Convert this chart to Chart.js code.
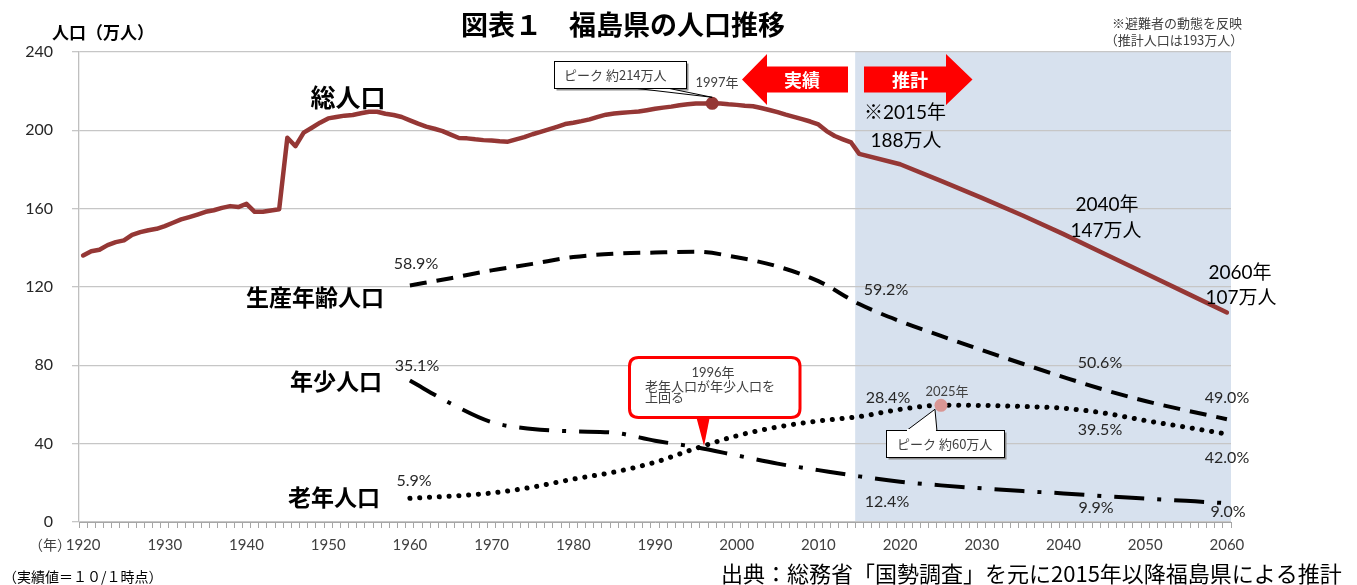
<!DOCTYPE html>
<html><head><meta charset="utf-8">
<script src="https://cdn.jsdelivr.net/npm/chart.js@4.4.1/dist/chart.umd.min.js"></script>
<style>html,body{margin:0;padding:0;background:#fff;}#wrap{position:relative;width:1357px;height:585px;}</style>
</head><body><div id="wrap"><canvas id="c"></canvas></div>
<script>
// ---------- DATA ----------
// category axis: every year 1920..2060 (axis domain)
const years = [];
for (let y = 1920; y <= 2060; y++) years.push(y);
const decadeTicks = [1920,1930,1940,1950,1960,1970,1980,1990,2000,2010,2020,2030,2040,2050,2060];
const yTicks = [0,40,80,120,160,200,240];

// 総人口 (実績, annual 1920-2015), 万人
const totalActualYears = [1920,1921,1922,1923,1924,1925,1926,1927,1928,1929,1930,1931,1932,1933,1934,1935,1936,1937,1938,1939,
  1940,1941,1942,1943,1944,1945,1946,1947,1948,1949,1950,1951,1952,1953,1954,1955,1956,1957,1958,1959,
  1960,1961,1962,1963,1964,1965,1966,1967,1968,1969,1970,1971,1972,1973,1974,1975,1976,1977,1978,1979,
  1980,1981,1982,1983,1984,1985,1986,1987,1988,1989,1990,1991,1992,1993,1994,1995,1996,1997,1998,1999,
  2000,2001,2002,2003,2004,2005,2006,2007,2008,2009,2010,2011,2012,2013,2014,2015];
const totalActual = [136.1,138.3,139.0,141.4,142.9,143.8,146.6,148.0,149.0,149.7,151.1,152.8,154.5,155.7,157.0,158.4,159.2,160.4,161.3,160.8,
  162.5,158.4,158.4,159.1,159.7,196.2,191.9,198.8,201.3,203.9,206.1,206.8,207.5,207.8,208.7,209.5,209.5,208.5,207.8,206.8,
  205.1,203.4,201.9,200.8,199.6,197.8,196.1,195.9,195.4,195.0,194.8,194.4,194.2,195.4,196.5,198.0,199.2,200.5,201.8,203.2,
  203.9,204.7,205.6,206.9,208.0,208.6,209.0,209.3,209.6,210.3,211.0,211.6,212.1,212.8,213.3,213.7,213.7,213.8,213.7,213.3,
  213.0,212.6,212.3,211.4,210.4,209.3,208.0,206.9,205.7,204.5,203.0,199.6,197.1,195.4,193.8,188.0];
// 総人口 (推計)
const projYears = [2020,2025,2030,2035,2040,2045,2050,2055,2060];
const totalProj = [182.7,174.2,165.5,156.5,147.0,137.0,127.0,117.0,107.0];

// 年齢3区分 (1960-2060, 5-year)
const ageYears = [1960,1965,1970,1975,1980,1985,1990,1995,2000,2005,2010,2015,2020,2025,2030,2035,2040,2045,2050,2055,2060];
const workingAge = [120.8,124.5,128.5,131.8,135.3,137.0,137.6,138.0,135.2,130.5,123.0,111.3,102.5,95.0,87.8,80.8,74.0,67.5,61.8,57.0,52.5];
const children   = [72.2,60.5,51.0,47.5,46.3,45.6,41.5,38.2,34.0,29.8,26.5,23.3,20.6,18.7,17.2,15.8,14.6,13.2,12.0,10.8,9.6];
const elderly    = [12.1,13.2,14.8,17.8,21.9,25.5,30.5,37.6,44.0,48.5,51.6,53.8,57.5,59.6,59.5,59.0,58.1,55.6,51.8,48.4,44.9];

const projectionStart = 2015;
const totalPeakYear = 1997;
const elderlyPeakYear = 2025;
const crossYear = 1996;

// ---------- STYLE ----------
const JP = '"Noto Sans CJK JP", sans-serif';
const NUM = 'Lato, "Noto Sans CJK JP", sans-serif';
const RED_LINE = '#953735';

function pts(ys, vs) { return ys.map((y, i) => ({ x: y, y: vs[i] })); }

const totalData = pts(totalActualYears, totalActual).concat(pts(projYears, totalProj));

function px(chart, year) { return chart.scales.x.getPixelForValue(years.indexOf(year)); }
function py(chart, v) { return chart.scales.y.getPixelForValue(v); }

const bgPlugin = {
  id: 'bg',
  beforeDraw(chart) {
    const { ctx, chartArea } = chart;
    const i0 = years.indexOf(projectionStart);
    const xs = chart.scales.x;
    const half = (xs.getPixelForValue(i0 + 1) - xs.getPixelForValue(i0)) / 2;
    const x0 = xs.getPixelForValue(i0) - half;
    ctx.save();
    ctx.fillStyle = '#D7E1EE';
    ctx.fillRect(x0, chartArea.top, chartArea.right - x0, chartArea.bottom - chartArea.top);
    ctx.restore();
  }
};

function txt(ctx, s, x, y, font, color, align) {
  ctx.font = font;
  ctx.fillStyle = color || '#000';
  ctx.textAlign = align || 'center';
  ctx.textBaseline = 'middle';
  ctx.fillText(s, x, y);
}
function poly(ctx, p, fill, stroke, lw) {
  ctx.beginPath();
  ctx.moveTo(p[0][0], p[0][1]);
  for (let i = 1; i < p.length; i++) ctx.lineTo(p[i][0], p[i][1]);
  ctx.closePath();
  if (fill) { ctx.fillStyle = fill; ctx.fill(); }
  if (stroke) { ctx.strokeStyle = stroke; ctx.lineWidth = lw || 1; ctx.stroke(); }
}
function rrect(ctx, x, y, w, h, r) {
  ctx.beginPath();
  ctx.moveTo(x + r, y); ctx.lineTo(x + w - r, y); ctx.quadraticCurveTo(x + w, y, x + w, y + r);
  ctx.lineTo(x + w, y + h - r); ctx.quadraticCurveTo(x + w, y + h, x + w - r, y + h);
  ctx.lineTo(x + r, y + h); ctx.quadraticCurveTo(x, y + h, x, y + h - r);
  ctx.lineTo(x, y + r); ctx.quadraticCurveTo(x, y, x + r, y);
  ctx.closePath();
}

const annoPlugin = {
  id: 'anno',
  afterDraw(chart) {
    const ctx = chart.ctx;
    ctx.save();
    // titles & notes
    txt(ctx, '図表１　福島県の人口推移', 623, 25, 'bold 27px ' + JP, '#000');
    txt(ctx, '人口（万人）', 52, 33, 'bold 17px ' + JP, '#000', 'left');
    txt(ctx, '※避難者の動態を反映', 1177, 23, '13px ' + JP, '#404040');
    txt(ctx, '（推計人口は193万人）', 1174, 40, '13px ' + JP, '#404040');
    txt(ctx, '（年）', 50, 545, '14px ' + JP, '#404040');
    txt(ctx, '（実績値＝１０/１時点）', 3, 577, '14px ' + JP, '#000', 'left');
    txt(ctx, '出典：総務省「国勢調査」を元に2015年以降福島県による推計', 721, 574, '22px ' + JP, '#000', 'left');

    // series labels
    txt(ctx, '総人口', 348, 97, 'bold 25px ' + JP, '#000');
    txt(ctx, '生産年齢人口', 315, 297, 'bold 23px ' + JP, '#000');
    txt(ctx, '年少人口', 336, 381, 'bold 23px ' + JP, '#000');
    txt(ctx, '老年人口', 334, 497, 'bold 23px ' + JP, '#000');

    const pf = '16px ' + NUM, pc = '#262626';
    txt(ctx, '58.9%', 416, 264, pf, pc);
    txt(ctx, '35.1%', 417, 366, pf, pc);
    txt(ctx, '5.9%', 414, 481, pf, pc);
    txt(ctx, '59.2%', 886, 290, pf, pc);
    txt(ctx, '28.4%', 888, 398, pf, pc);
    txt(ctx, '12.4%', 887, 502, pf, pc);
    txt(ctx, '50.6%', 1100, 363, pf, pc);
    txt(ctx, '39.5%', 1100, 430, pf, pc);
    txt(ctx, '9.9%', 1096, 508, pf, pc);
    txt(ctx, '49.0%', 1227, 398, pf, pc);
    txt(ctx, '42.0%', 1227, 458, pf, pc);
    txt(ctx, '9.0%', 1228, 512, pf, pc);

    const bf = '19px ' + NUM;
    txt(ctx, '※2015年', 905, 113, bf, '#000');
    txt(ctx, '188万人', 906, 141, bf, '#000');
    txt(ctx, '2040年', 1107, 205, bf, '#000');
    txt(ctx, '147万人', 1106, 231, bf, '#000');
    txt(ctx, '2060年', 1240, 273, bf, '#000');
    txt(ctx, '107万人', 1241, 298, bf, '#000');

    // arrows 実績 / 推計
    poly(ctx, [[742,79.5],[767,54],[767,66.5],[848,66.5],[848,92.5],[767,92.5],[767,105]], '#FF0000');
    poly(ctx, [[864,66.5],[946,66.5],[946,54],[972.5,79.5],[946,105],[946,92.5],[864,92.5]], '#FF0000');
    txt(ctx, '実績', 802, 80, 'bold 18px ' + JP, '#fff');
    txt(ctx, '推計', 910, 80, 'bold 18px ' + JP, '#fff');

    // peak total callout
    const tx = px(chart, totalPeakYear);
    const tyv = totalActual[totalActualYears.indexOf(totalPeakYear)];
    const ty = py(chart, tyv) - 6;
    ctx.fillStyle = '#8c8c8c';
    ctx.fillRect(556.5, 63.5, 132, 27);
    poly(ctx, [[633, 88], [tx, ty], [667, 88]], '#fff', '#000', 1);
    ctx.fillStyle = '#fff'; ctx.fillRect(554.5, 61.5, 132, 27);
    ctx.strokeStyle = '#000'; ctx.lineWidth = 1; ctx.strokeRect(554.5, 61.5, 132, 27);
    txt(ctx, 'ピーク 約214万人', 564, 75, '13px ' + JP, '#404040', 'left');
    txt(ctx, '1997年', 717, 83, '13px ' + NUM, '#404040');

    // 1996 red callout
    const cx = px(chart, crossYear);
    const cy = py(chart, 38.8);
    rrect(ctx, 629.5, 357.5, 170.5, 60, 9);
    ctx.fillStyle = '#fff'; ctx.fill();
    ctx.strokeStyle = '#FF0000'; ctx.lineWidth = 3; ctx.stroke();
    poly(ctx, [[696, 416], [cx, cy], [710, 416]], '#FF0000');
    txt(ctx, '1996年', 713, 373, '13px ' + NUM, '#404040');
    txt(ctx, '老年人口が年少人口を', 645, 386, '13px ' + JP, '#404040', 'left');
    txt(ctx, '上回る', 645, 397, '13px ' + JP, '#404040', 'left');

    // elderly peak callout
    const ex = px(chart, elderlyPeakYear);
    const ey = py(chart, elderly[ageYears.indexOf(elderlyPeakYear)]);
    txt(ctx, '2025年', 947, 392, '13px ' + NUM, '#404040');
    ctx.fillStyle = '#8c8c8c';
    ctx.fillRect(888.5, 432.5, 118, 27);
    poly(ctx, [[906, 431], [ex - 6, ey + 4], [ex - 4, 431]], '#fff', '#000', 1);
    ctx.fillStyle = '#fff'; ctx.fillRect(886.5, 430.5, 118, 27);
    ctx.strokeStyle = '#000'; ctx.lineWidth = 1; ctx.strokeRect(886.5, 430.5, 118, 27);
    ctx.fillStyle = '#fff'; ctx.fillRect(907, 429, ex - 4 - 907 - 1, 3);
    txt(ctx, 'ピーク 約60万人', 897, 444, '13px ' + JP, '#404040', 'left');
    ctx.restore();
  }
};

new Chart(document.getElementById('c'), {
  type: 'line',
  data: {
    labels: years,
    datasets: [
      { label: 'peakTotal', data: [{ x: totalPeakYear, y: totalActual[totalActualYears.indexOf(totalPeakYear)] }],
        showLine: false, pointRadius: 6.5, pointBackgroundColor: RED_LINE, pointBorderWidth: 0 },
      { label: 'peakElderly', data: [{ x: elderlyPeakYear, y: elderly[ageYears.indexOf(elderlyPeakYear)] }],
        showLine: false, pointRadius: 6.5, pointBackgroundColor: '#D99694', pointBorderWidth: 0 },
      { label: '総人口', data: totalData, borderColor: RED_LINE, borderWidth: 4.5, pointRadius: 0,
        tension: 0, borderJoinStyle: 'round', borderCapStyle: 'round' },
      { label: '生産年齢人口', data: pts(ageYears, workingAge), borderColor: '#000', borderWidth: 4,
        borderDash: [17, 10], pointRadius: 0, cubicInterpolationMode: 'monotone' },
      { label: '年少人口', data: pts(ageYears, children), borderColor: '#000', borderWidth: 4,
        borderDash: [30, 13, 4, 13], pointRadius: 0, cubicInterpolationMode: 'monotone' },
      { label: '老年人口', data: pts(ageYears, elderly), borderColor: '#000', borderWidth: 5,
        borderDash: [0.1, 9.7], borderCapStyle: 'round', pointRadius: 0, cubicInterpolationMode: 'monotone' }
    ]
  },
  options: {
    responsive: true, maintainAspectRatio: false, animation: false,
    layout: { padding: { left: 0, right: 126, top: 52, bottom: 23 } },
    plugins: { legend: { display: false }, tooltip: { enabled: false }, title: { display: false } },
    scales: {
      x: {
        type: 'category', offset: true,
        grid: { display: true, drawOnChartArea: false, drawTicks: true, tickLength: 6, offset: true, color: '#A6A6A6', lineWidth: 1 },
        border: { display: true, color: '#A6A6A6', width: 1 },
        ticks: {
          autoSkip: false, maxRotation: 0, minRotation: 0, padding: 8, color: '#404040',
          font: { family: NUM, size: 15 },
          callback: function (v) { const y = Number(this.getLabelForValue(v)); return decadeTicks.includes(y) ? String(y) : ''; }
        },
        afterFit: s => { s.height = 40; }
      },
      y: {
        min: yTicks[0], max: yTicks[yTicks.length - 1],
        afterBuildTicks: s => { s.ticks = yTicks.map(v => ({ value: v })); },
        grid: { color: '#C6C6C6', lineWidth: 1.3, tickLength: 7 },
        border: { color: '#BFBFBF', width: 1.3 },
        ticks: { padding: 19, color: '#262626', font: { family: NUM, size: 16 } },
        afterFit: s => { s.width = 79; }
      }
    }
  },
  plugins: [bgPlugin, annoPlugin]
});
</script></body></html>
